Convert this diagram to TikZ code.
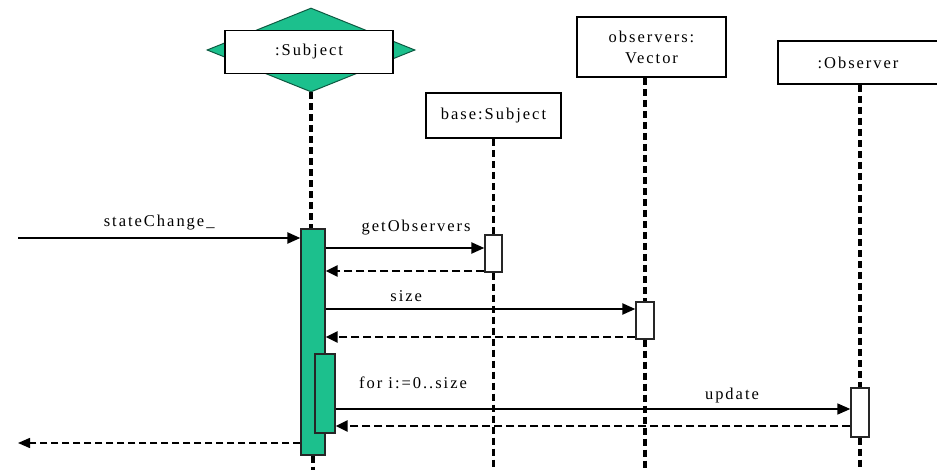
\documentclass[tikz,border=0pt]{standalone}
\usepackage{fontspec}
\newfontfamily\umlfont{Liberation Serif}[LetterSpace=12]
\definecolor{umlgreen}{HTML}{1CC08D}
\definecolor{umldark}{HTML}{0E5A42}
\usetikzlibrary{positioning, shapes.geometric, arrows.meta, calc}
\tikzset{
	lifebox/.style={
			rectangle,
			draw=black,
			line width=1.6pt,
			fill=white,
			inner sep=0pt,
			align=center,
			font=\umlfont\fontsize{16.5}{21}\selectfont
		},
	rolediamond/.style={
			diamond,
			draw=umldark,
			line width=1pt,
			fill=umlgreen,
			inner sep=0pt
		},
	actbar/.style={
			rectangle,
			draw=black!85,
			line width=1.3pt,
			fill=umlgreen,
			inner sep=0pt
		},
	actbarwhite/.style={
			actbar,
			fill=white
		},
	lifeline/.style={
			line width=3.2pt,
			dash pattern=on 7pt off 4pt
		},
	msg/.style={
			line width=2.2pt,
			-{Triangle[length=13pt,width=11pt]}
		},
	msgthin/.style={
			line width=1.5pt,
			-{Triangle[length=13pt,width=11pt]}
		},
	retmsg/.style={
			line width=2.8pt,
			dash pattern=on 8pt off 4pt,
			-{Triangle[length=12pt,width=11pt]}
		},
	retthin/.style={
			line width=1.5pt,
			dash pattern=on 7pt off 4pt,
			-{Triangle[length=12pt,width=10pt]}
		},
	msglabel/.style={
			font=\umlfont\fontsize{16.5}{18}\selectfont,
			inner sep=0pt
		}
}

\begin{document}
\begin{tikzpicture}[x=1pt, y=-1pt]
\useasboundingbox (0,0) rectangle (937,470);
\coordinate (bottom) at (0,470);

% objects
\node[rolediamond, minimum width=208, minimum height=84] (subjd) at (311,50) {};
\node[lifebox, minimum width=168, minimum height=43] (subj) at (309,52) {:Subject};
\node[lifebox, minimum width=135, minimum height=45] (base) at (493.5,115.5) {base:Subject};
\node[lifebox, minimum width=149, minimum height=60] (vec) at (651.5,47) {observers:\\Vector};
\node[lifebox, minimum width=160, minimum height=43] (obs) at (858,62.5) {:Observer};

% activations
\node[actbar, minimum width=24, minimum height=226] (sact) at (313,342) {};
\node[actbarwhite, minimum width=17, minimum height=37] (bact) at (493.5,253.5) {};
\node[actbarwhite, minimum width=18, minimum height=37] (vact) at (645,320.5) {};
\node[actbarwhite, minimum width=18, minimum height=49] (oact) at (860,412.5) {};

% lifelines
\draw[lifeline] (subjd.south) -- (subjd.south |- sact.north);
\draw[lifeline] (sact.south) -- (sact.south |- bottom);
\draw[lifeline] (base.south) -- (bact.north);
\draw[lifeline] (bact.south) -- (bact.south |- bottom);
\draw[lifeline] (vec.south -| vact.north) -- (vact.north);
\draw[lifeline] (vact.south) -- (vact.south |- bottom);
\draw[lifeline] (obs.south -| oact.north) -- (oact.north);
\draw[lifeline] (oact.south) -- (oact.south |- bottom);

\node[actbar, minimum width=20, minimum height=79] (lact) at (325,393.5) {};

% messages
\coordinate (caller) at (18,238);
\coordinate (callerback) at (18,443);
\draw[msg] (caller) -- node[msglabel, above=7pt] (lstate) {stateChange\_} (caller -| sact.west);
\draw[msg] (sact.east |- 0,248) -- node[msglabel, above=12pt, pos=0.57] (lget) {getObservers} (bact.west |- 0,248);
\draw[retmsg] (bact.west |- 0,271) -- (sact.east |- 0,271);
\draw[msg] (sact.east |- 0,309) -- node[msglabel, above=6pt, pos=0.26] (lsize) {size} (vact.west |- 0,309);
\draw[retmsg] (vact.west |- 0,337) -- (sact.east |- 0,337);
\node[msglabel] (lloop) at (413,383) {for i:=0..size};
\draw[msgthin] (lact.east |- 0,409) -- node[msglabel, above=5pt, pos=0.77] (lupd) {update} (oact.west |- 0,409);
\draw[retmsg] (oact.west |- 0,426) -- (lact.east |- 0,426);
\draw[retthin] (sact.west |- callerback) -- (callerback);
\end{tikzpicture}
\end{document}
